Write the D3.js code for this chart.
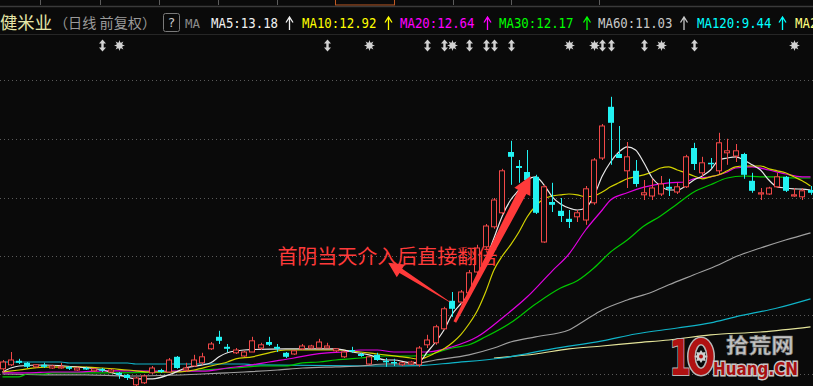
<!DOCTYPE html>
<html>
<head>
<meta charset="utf-8">
<script src="https://cdn.jsdelivr.net/npm/d3@7/dist/d3.min.js"></script>
<style>
  html, body { margin: 0; padding: 0; background: #0a0a0a; overflow: hidden; }
  svg { display: block; }
</style>
</head>
<body>
<svg id="chart"></svg>
<script>
const W = 813, H = 386

// daily candles: [open, high, low, close]
const candles = [
  [7.78, 8.00, 7.70, 7.95], [7.88, 8.20, 7.85, 8.00], [7.98, 8.03, 7.90, 7.93], [7.93, 7.95, 7.80, 7.83],
  [7.83, 7.90, 7.80, 7.88], [7.88, 7.93, 7.80, 7.83], [7.80, 7.88, 7.78, 7.85], [7.80, 7.93, 7.78, 7.83],
  [7.83, 7.85, 7.75, 7.78], [7.75, 7.83, 7.73, 7.80], [7.80, 7.83, 7.75, 7.78], [7.73, 7.80, 7.70, 7.78],
  [7.78, 7.80, 7.70, 7.73], [7.70, 7.78, 7.68, 7.75], [7.68, 7.70, 7.53, 7.63], [7.63, 7.65, 7.50, 7.55],
  [7.38, 7.58, 7.35, 7.55], [7.43, 7.63, 7.40, 7.60], [7.68, 7.85, 7.65, 7.80], [7.75, 7.78, 7.68, 7.70],
  [7.70, 8.05, 7.68, 8.00], [8.08, 8.10, 7.78, 7.80], [7.75, 7.93, 7.70, 7.80], [7.85, 8.13, 7.83, 8.00],
  [7.93, 8.18, 7.88, 8.08], [8.28, 8.45, 8.25, 8.40], [8.58, 8.73, 8.40, 8.48], [8.33, 8.40, 8.20, 8.28],
  [8.18, 8.30, 8.15, 8.25], [8.10, 8.23, 8.08, 8.20], [8.20, 8.58, 8.20, 8.48], [8.30, 8.43, 8.25, 8.38],
  [8.45, 8.58, 8.35, 8.38], [8.33, 8.40, 8.20, 8.28], [8.18, 8.20, 8.05, 8.08], [8.15, 8.25, 8.13, 8.23],
  [8.28, 8.40, 8.25, 8.35], [8.30, 8.38, 8.28, 8.35], [8.30, 8.53, 8.30, 8.45], [8.30, 8.43, 8.30, 8.35],
  [8.23, 8.30, 8.20, 8.28], [8.08, 8.23, 8.05, 8.20], [8.25, 8.33, 8.18, 8.23], [8.15, 8.18, 8.08, 8.10],
  [7.90, 8.10, 7.88, 8.08], [8.13, 8.18, 7.98, 8.00], [7.98, 8.05, 7.83, 7.95], [7.95, 8.03, 7.85, 7.93],
  [7.88, 7.95, 7.85, 7.93], [7.90, 7.98, 7.88, 7.95], [7.88, 8.35, 7.83, 8.30], [8.38, 8.63, 8.30, 8.50],
  [8.43, 8.88, 8.38, 8.83], [8.78, 9.33, 8.75, 9.28], [9.48, 9.70, 9.08, 9.28], [9.45, 9.75, 9.40, 9.70],
  [9.68, 10.25, 9.63, 10.18], [10.20, 10.88, 10.15, 10.80], [10.83, 11.40, 10.78, 11.35], [11.33, 12.05, 11.28, 12.00],
  [11.68, 12.78, 11.63, 12.73], [13.20, 13.48, 12.38, 13.08], [12.85, 13.00, 12.43, 12.80], [12.70, 13.25, 12.45, 12.50],
  [12.58, 12.63, 11.65, 11.68], [10.95, 12.38, 10.93, 12.33], [11.95, 12.43, 11.70, 11.88], [11.73, 12.05, 11.45, 11.60],
  [11.53, 11.75, 11.30, 11.45], [11.58, 11.75, 11.45, 11.68], [11.50, 12.35, 11.38, 12.28], [11.93, 13.05, 11.88, 13.00],
  [13.05, 13.90, 13.00, 13.85], [14.33, 14.58, 12.88, 13.93], [13.15, 13.85, 13.05, 13.05], [12.73, 13.45, 12.30, 13.08],
  [12.73, 13.00, 12.33, 12.40], [12.13, 12.50, 12.00, 12.18], [12.10, 12.53, 12.00, 12.30], [12.15, 12.60, 12.10, 12.40],
  [12.33, 12.53, 12.10, 12.28], [12.20, 12.43, 12.15, 12.33], [12.33, 13.13, 12.30, 13.08], [13.30, 13.43, 12.75, 12.90],
  [12.68, 13.08, 12.60, 12.93], [12.93, 13.05, 12.80, 12.90], [12.73, 13.68, 12.65, 13.43], [13.18, 13.53, 12.88, 13.23],
  [13.10, 13.40, 12.95, 13.23], [13.15, 13.18, 12.53, 12.63], [12.48, 12.68, 12.18, 12.23], [12.15, 12.30, 12.00, 12.18],
  [12.15, 12.33, 12.13, 12.30], [12.33, 12.68, 12.30, 12.58], [12.58, 12.60, 12.20, 12.23], [12.10, 12.30, 12.08, 12.13],
  [12.08, 12.30, 12.00, 12.23], [12.25, 12.35, 12.13, 12.18],
]

// moving averages: [bar index, value]
const ma5 = [[0,7.7],[1,7.8],[2,7.85],[5,7.875],[9,7.825],[12,7.75],[14,7.63],[16,7.53],[18,7.53],[20,7.63],[22,7.8],[25,7.93],[26,8.08],[27,8.18],[29,8.25],[34,8.28],[40,8.28],[42,8.2],[44,8.13],[46,8.0],[47,8.0],[49,7.93],[50,7.95],[51,8.2],[52,8.45],[53,8.75],[54,9.15],[55,9.4],[56,9.65],[57,10.05],[58,10.5],[59,11.05],[60,11.6],[61,12.0],[62,12.25],[63,12.5],[64,12.58],[65,12.38],[66,12.08],[67,11.9],[68,11.8],[69,11.75],[70,11.8],[71,12.1],[72,12.6],[73,12.95],[74,13.2],[75,13.33],[76,13.25],[77,12.93],[78,12.55],[79,12.35],[80,12.25],[81,12.25],[82,12.35],[83,12.5],[84,12.6],[85,12.75],[86,13.0],[87,13.05],[88,13.08],[89,13.0],[90,12.88],[91,12.75],[92,12.5],[93,12.33],[94,12.3],[95,12.28],[96,12.27],[97,12.25]]
const ma10 = [[0,7.7],[2,7.75],[5,7.82],[9,7.83],[12,7.8],[15,7.75],[18,7.7],[21,7.7],[23,7.75],[25,7.85],[27,7.95],[28,8.03],[30,8.08],[32,8.18],[34,8.25],[40,8.25],[43,8.2],[45,8.15],[48,8.08],[49,8.05],[50,8.02],[51,8.08],[52,8.18],[53,8.28],[54,8.43],[55,8.63],[56,8.9],[57,9.23],[58,9.7],[59,10.25],[60,10.6],[61,10.88],[62,11.2],[63,11.58],[64,11.85],[65,12.03],[66,12.1],[67,12.13],[68,12.15],[69,12.13],[70,12.08],[71,12.1],[72,12.2],[73,12.33],[74,12.43],[75,12.53],[76,12.58],[77,12.63],[78,12.7],[79,12.8],[80,12.83],[81,12.75],[82,12.68],[83,12.6],[84,12.53],[85,12.58],[86,12.63],[87,12.73],[88,12.83],[89,12.85],[90,12.85],[91,12.85],[92,12.78],[93,12.73],[94,12.68],[95,12.58],[96,12.48],[97,12.35]]
const ma20 = [[0,7.68],[3,7.68],[6,7.7],[9,7.7],[12,7.73],[15,7.73],[20,7.72],[24,7.72],[27,7.8],[30,7.88],[32,7.95],[35,8.05],[37,8.13],[39,8.18],[41,8.2],[43,8.25],[45,8.25],[47,8.2],[49,8.2],[51,8.2],[54,8.33],[57,8.58],[60,9.05],[63,9.58],[66,10.23],[68,10.65],[70,11.25],[72,11.75],[73,12.0],[75,12.18],[77,12.32],[80,12.43],[82,12.45],[83,12.53],[85,12.58],[87,12.7],[88,12.8],[90,12.83],[92,12.75],[94,12.65],[96,12.58],[97,12.58]]
const ma30 = [[0,7.58],[2,7.58],[3,7.65],[5,7.65],[6,7.68],[14,7.68],[20,7.7],[24,7.75],[28,7.8],[31,7.85],[34,7.85],[36,7.93],[38,7.95],[40,8.0],[43,8.05],[46,8.1],[49,8.1],[51,8.13],[54,8.3],[56,8.38],[58,8.58],[61,8.93],[64,9.4],[67,9.8],[69,9.98],[71,10.3],[73,10.7],[75,11.0],[77,11.35],[79,11.6],[81,11.9],[83,12.2],[85,12.38],[87,12.55],[89,12.6],[91,12.58],[93,12.58],[95,12.55],[97,12.55]]
const ma60 = [[0,7.65],[5,7.63],[10,7.63],[15,7.6],[24,7.65],[27,7.68],[29,7.7],[33,7.75],[36,7.8],[40,7.83],[43,7.85],[46,7.9],[49,7.9],[52,8.0],[56,8.13],[59,8.3],[61,8.45],[64,8.58],[68,8.75],[70,9.0],[72,9.25],[75,9.5],[78,9.7],[80,9.88],[83,10.13],[86,10.38],[88,10.58],[91,10.8],[94,11.0],[97,11.18]]
const ma120 = [[0,7.95],[7,7.95],[8,7.925],[15,7.925],[16,7.9],[29,7.9],[30,7.88],[47,7.85],[50,7.86],[54,7.93],[60,8.05],[66,8.28],[72,8.48],[76,8.65],[81,8.8],[85,8.93],[88,9.08],[93,9.3],[97,9.53]]
const ma250 = [[59,8.05],[64,8.15],[68,8.28],[72,8.35],[76,8.43],[80,8.5],[85,8.63],[91,8.7],[97,8.83]]

const maSeries = [
  { name: 'MA5', value: '13.18', data: ma5, text: '#f0f0f0', line: '#e8e8e8' },
  { name: 'MA10', value: '12.92', data: ma10, text: '#ffff00', line: '#d2d200' },
  { name: 'MA20', value: '12.64', data: ma20, text: '#ff00ff', line: '#e000e0' },
  { name: 'MA30', value: '12.17', data: ma30, text: '#00ff00', line: '#00c800' },
  { name: 'MA60', value: '11.03', data: ma60, text: '#c8c8c8', line: '#a0a0a0' },
  { name: 'MA120', value: '9.44', data: ma120, text: '#00ffff', line: '#10b4c8' },
  { name: 'MA250', value: '8.83', data: ma250, text: '#ffff80', line: '#e4e49a' },
]

// signal markers above the chart: [bar index, kind]
const markers = [[12,'arrow'],[14,'star'],[39,'arrow'],[44,'star'],[51,'arrow'],[53,'arrow'],[54,'star'],[56,'arrow'],[58,'arrow'],[59,'arrow'],[61,'arrow'],[68,'star'],[71,'star'],[72,'arrow'],[73,'arrow'],[77,'arrow'],[79,'star'],[83,'arrow'],[95,'star']]

const gridPrices = [7.65, 9.12, 10.59, 12.05, 13.52, 14.99]
const stockName = '健米业'
const subTitle = '（日线 前复权）'
const noteText = '首阴当天介入后直接翻倍'

const x = d3.scaleLinear().domain([0, candles.length - 1]).range([2.5, 810.5])
const y = d3.scaleLinear().domain([7, 15.5]).range([400, 60])

const svg = d3.select('#chart').attr('width', W).attr('height', H)
svg.append('rect').attr('width', W).attr('height', H).attr('fill', '#0a0a0a')

// top tab strip
const tabEdges = [40, 100, 159, 218, 277, 453, 511, 599]
svg.selectAll('line.tab').data(tabEdges).enter().append('line')
  .attr('x1', d => d + 0.5).attr('x2', d => d + 0.5).attr('y1', 0).attr('y2', 5)
  .attr('stroke', '#5c5c5c')
svg.append('rect').attr('x', 335.5).attr('y', -2).attr('width', 59).attr('height', 7)
  .attr('fill', 'none').attr('stroke', '#c25a22')
svg.append('line').attr('x1', 0).attr('x2', W).attr('y1', 6.5).attr('y2', 6.5)
  .attr('stroke', '#3a3a3a').attr('stroke-width', 1.5)
svg.append('line').attr('x1', 0).attr('x2', W).attr('y1', 34.5).attr('y2', 34.5)
  .attr('stroke', '#262626')

// title + legend
const mono = "'DejaVu Sans Mono', monospace"
const cjk = "'Noto Sans CJK SC', sans-serif"
svg.append('text').attr('x', 0).attr('y', 29).attr('font-family', cjk).attr('font-size', 17.5)
  .attr('fill', '#e6e6a8').attr('textLength', 52).attr('lengthAdjust', 'spacingAndGlyphs').text(stockName)
svg.append('text').attr('x', 54).attr('y', 28).attr('font-family', cjk).attr('font-size', 14)
  .attr('fill', '#9a9a9a').attr('textLength', 102).attr('lengthAdjust', 'spacingAndGlyphs').text(subTitle)
svg.append('rect').attr('x', 163.5).attr('y', 13.5).attr('width', 16).attr('height', 18).attr('rx', 2)
  .attr('fill', 'none').attr('stroke', '#7a7a7a')
svg.append('text').attr('x', 171.5).attr('y', 27).attr('text-anchor', 'middle').attr('font-family', mono)
  .attr('font-size', 13).attr('fill', '#c8c8c8').text('?')
svg.append('text').attr('x', 185).attr('y', 28).attr('font-family', mono).attr('font-size', 13)
  .attr('fill', '#8a8a8a').attr('textLength', 15).attr('lengthAdjust', 'spacingAndGlyphs').text('MA')

const legendX = [211, 302, 400, 499, 598, 697, 795]
const legendArrowX = [289.5, 388.5, 487.5, 587, 684, 782.5]
maSeries.forEach((s, k) => {
  const label = `${s.name}:${s.value}`
  svg.append('text').attr('x', legendX[k]).attr('y', 28).attr('font-family', mono).attr('font-size', 14)
    .attr('fill', s.text).attr('textLength', label.length * 7.45).attr('lengthAdjust', 'spacingAndGlyphs')
    .text(label)
  if (k < legendArrowX.length) {
    const ax = legendArrowX[k]
    svg.append('path').attr('d', `M${ax},30V17M${ax - 3.5},22.5L${ax},17L${ax + 3.5},22.5`)
      .attr('fill', 'none').attr('stroke', s.text).attr('stroke-width', 1.3)
  }
})

// markers
const gMark = svg.append('g').attr('fill', '#d2d2d2')
markers.forEach(([i, kind]) => {
  const cx = Math.round(x(i)) + 0.5, cy = 45.5
  if (kind === 'arrow') {
    gMark.append('path').attr('d',
      `M${cx - 3.5},${cy - 2}L${cx},${cy - 6}L${cx + 3.5},${cy - 2}H${cx + 1.2}V${cy + 2}H${cx + 3.5}L${cx},${cy + 6}L${cx - 3.5},${cy + 2}H${cx - 1.2}V${cy - 2}Z`)
  } else {
    const pts = d3.range(16).map(j => {
      const a = j * Math.PI / 8, r = j % 2 ? 2.6 : 5.5
      return [cx + r * Math.cos(a), cy + r * Math.sin(a)]
    })
    gMark.append('path').attr('d', 'M' + pts.join('L') + 'Z')
    gMark.append('circle').attr('cx', cx).attr('cy', cy).attr('r', 3)
  }
})

// grid
svg.append('g').selectAll('line').data(gridPrices).enter().append('line')
  .attr('x1', 0).attr('x2', W)
  .attr('y1', d => Math.round(y(d)) + 0.5).attr('y2', d => Math.round(y(d)) + 0.5)
  .attr('stroke', '#5a5a5a').attr('stroke-dasharray', '1,3')

// moving average lines
const line = d3.line().x(d => x(d[0])).y(d => y(d[1])).curve(d3.curveMonotoneX)
const gMa = svg.append('g').attr('fill', 'none').attr('stroke-width', 1.2)
maSeries.slice().reverse().forEach(s => {
  gMa.append('path').attr('d', line(s.data)).attr('stroke', s.line)
})

// candles
const UP = '#f24848', DOWN = '#22f2f2'
const bw = 6
const gC = svg.append('g')
candles.forEach((c, i) => {
  const [o, h, l, cl] = c
  const cx = Math.round(x(i)) + 0.5
  const up = cl >= o
  const top = y(Math.max(o, cl)), bot = y(Math.min(o, cl))
  const col = up ? UP : DOWN
  if (up) {
    gC.append('line').attr('x1', cx).attr('x2', cx).attr('y1', y(h)).attr('y2', top).attr('stroke', col)
    gC.append('line').attr('x1', cx).attr('x2', cx).attr('y1', bot).attr('y2', y(l)).attr('stroke', col)
    gC.append('rect').attr('x', cx - bw / 2).attr('y', top).attr('width', bw - 1)
      .attr('height', Math.max(1, bot - top)).attr('fill', '#0a0a0a').attr('stroke', col)
  } else {
    gC.append('line').attr('x1', cx).attr('x2', cx).attr('y1', y(h)).attr('y2', y(l)).attr('stroke', col)
    gC.append('rect').attr('x', cx - bw / 2 - 0.5).attr('y', top).attr('width', bw)
      .attr('height', Math.max(1.5, bot - top)).attr('fill', col)
  }
})

// annotation
function arrowShape(t, p, tailHalf, shaftHalf, headHalf, headLen) {
  const dx = p[0] - t[0], dy = p[1] - t[1], L = Math.hypot(dx, dy)
  const ux = dx / L, uy = dy / L, nx = -uy, ny = ux
  const bx = p[0] - ux * headLen, by = p[1] - uy * headLen
  const pts = [
    [t[0] + nx * tailHalf, t[1] + ny * tailHalf],
    [bx + nx * shaftHalf, by + ny * shaftHalf],
    [bx + nx * headHalf, by + ny * headHalf],
    p,
    [bx - nx * headHalf, by - ny * headHalf],
    [bx - nx * shaftHalf, by - ny * shaftHalf],
    [t[0] - nx * tailHalf, t[1] - ny * tailHalf],
  ]
  return 'M' + pts.map(q => q.join(',')).join('L') + 'Z'
}
const NOTE = '#ff3a3a'
svg.append('path')
  .attr('d', arrowShape([x(54.3), y(8.95)], [x(63.4), y(12.6)], 1.5, 4.5, 9, 18))
  .attr('fill', NOTE)
svg.append('path')
  .attr('d', arrowShape([x(53.7), y(9.45)], [x(46.3), y(10.43)], 0.3, 2.5, 7.5, 15))
  .attr('fill', NOTE)
svg.append('text').attr('x', x(33)).attr('y', y(10.4)).attr('font-family', cjk).attr('font-size', 20)
  .attr('fill', NOTE).attr('textLength', 220).attr('lengthAdjust', 'spacingAndGlyphs').text(noteText)

// watermark
const gLogo = svg.append('g')
gLogo.append('text').attr('x', 680).attr('y', 375).attr('text-anchor', 'middle')
  .attr('font-family', "'DejaVu Sans', sans-serif").attr('font-weight', 'bold').attr('font-size', 50)
  .attr('transform', 'translate(680,0) scale(0.62,1) translate(-680,0)')
  .attr('fill', '#b01212').attr('stroke', '#b8b8b8').attr('stroke-width', 2).attr('paint-order', 'stroke')
  .text('1')
gLogo.append('ellipse').attr('cx', 701).attr('cy', 356.5).attr('rx', 9.5).attr('ry', 15.5)
  .attr('fill', 'none').attr('stroke', '#b8b8b8').attr('stroke-width', 9)
gLogo.append('ellipse').attr('cx', 701).attr('cy', 356.5).attr('rx', 9.5).attr('ry', 15.5)
  .attr('fill', 'none').attr('stroke', '#b01212').attr('stroke-width', 6)
const gear = d3.range(16).map(j => {
  const a = j * Math.PI / 8, r = j % 2 ? 4.2 : 6.5
  return [701 + r * Math.cos(a), 356.5 + r * Math.sin(a)]
})
gLogo.append('path').attr('d', 'M' + gear.join('L') + 'Z').attr('fill', '#d0d0d0')
gLogo.append('circle').attr('cx', 701).attr('cy', 356.5).attr('r', 2).attr('fill', '#b01212')
gLogo.append('text').attr('x', 726).attr('y', 353).attr('font-family', cjk).attr('font-weight', 'bold')
  .attr('font-size', 20).attr('fill', '#c4c4c4').attr('stroke', '#7a7a7a').attr('stroke-width', 0.6)
  .attr('textLength', 68).attr('lengthAdjust', 'spacingAndGlyphs').text('拾荒网')
gLogo.append('text').attr('x', 713).attr('y', 375).attr('font-family', "'DejaVu Sans', sans-serif")
  .attr('font-weight', 'bold').attr('font-size', 17).attr('fill', '#a81010')
  .attr('stroke', '#c8c8c8').attr('stroke-width', 3).attr('paint-order', 'stroke')
  .attr('textLength', 85).attr('lengthAdjust', 'spacingAndGlyphs').text('Huang.CN')
</script>
</body>
</html>
